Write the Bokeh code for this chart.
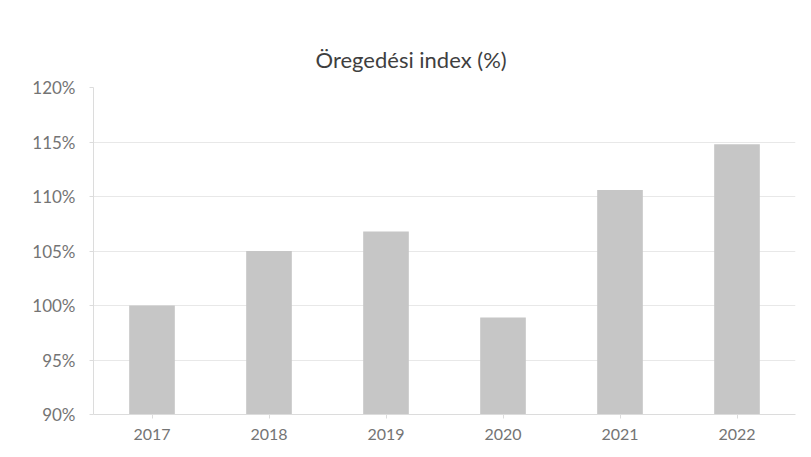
from bokeh.plotting import figure
from bokeh.embed import file_html
from bokeh.resources import INLINE
from bokeh.models import ColumnDataSource, NumeralTickFormatter, FixedTicker, Range1d

years = ["2017", "2018", "2019", "2020", "2021", "2022"]
values = [1.00, 1.05, 1.068, 0.989, 1.106, 1.148]
y_ticks = [0.90, 0.95, 1.00, 1.05, 1.10, 1.15, 1.20]

src = ColumnDataSource(dict(year=years, val=values))

p = figure(x_range=years, y_range=Range1d(0.90, 1.20),
           frame_width=702, frame_height=327,
           min_border_left=93, min_border_right=8, min_border_top=87, min_border_bottom=35,
           output_backend="svg", toolbar_location=None,
           title="Öregedési index (%)")

p.vbar(x="year", top="val", bottom=0.90, width=0.39, source=src,
       fill_color="#c6c6c6", line_color=None)

p.title.align = "left"
p.title.offset = 222
p.title.text_font = "Lato"
p.title.text_font_size = "22px"
p.title.text_font_style = "normal"
p.title.text_color = "#3f3f3f"
p.title.standoff = 29

p.yaxis.ticker = FixedTicker(ticks=y_ticks)
p.yaxis.formatter = NumeralTickFormatter(format="0%")
for ax in (p.xaxis[0], p.yaxis[0]):
    ax.major_label_text_font = "Lato"
    ax.major_label_text_font_size = "16px"
    ax.major_label_text_color = "#747474"
    ax.axis_line_color = "#dcdcdc"
    ax.major_tick_line_color = "#dcdcdc"
    ax.major_tick_in = 0
    ax.major_tick_out = 4
    ax.minor_tick_line_color = None
p.yaxis.major_label_text_font_size = "17px"
p.yaxis.major_label_standoff = 14
p.xaxis.major_label_standoff = 10

p.xgrid.grid_line_color = None
p.ygrid.grid_line_color = "#e8e8e8"
p.outline_line_color = None
p.background_fill_color = "white"
p.border_fill_color = "white"

open("out.html", "w").write(file_html(p, INLINE))
